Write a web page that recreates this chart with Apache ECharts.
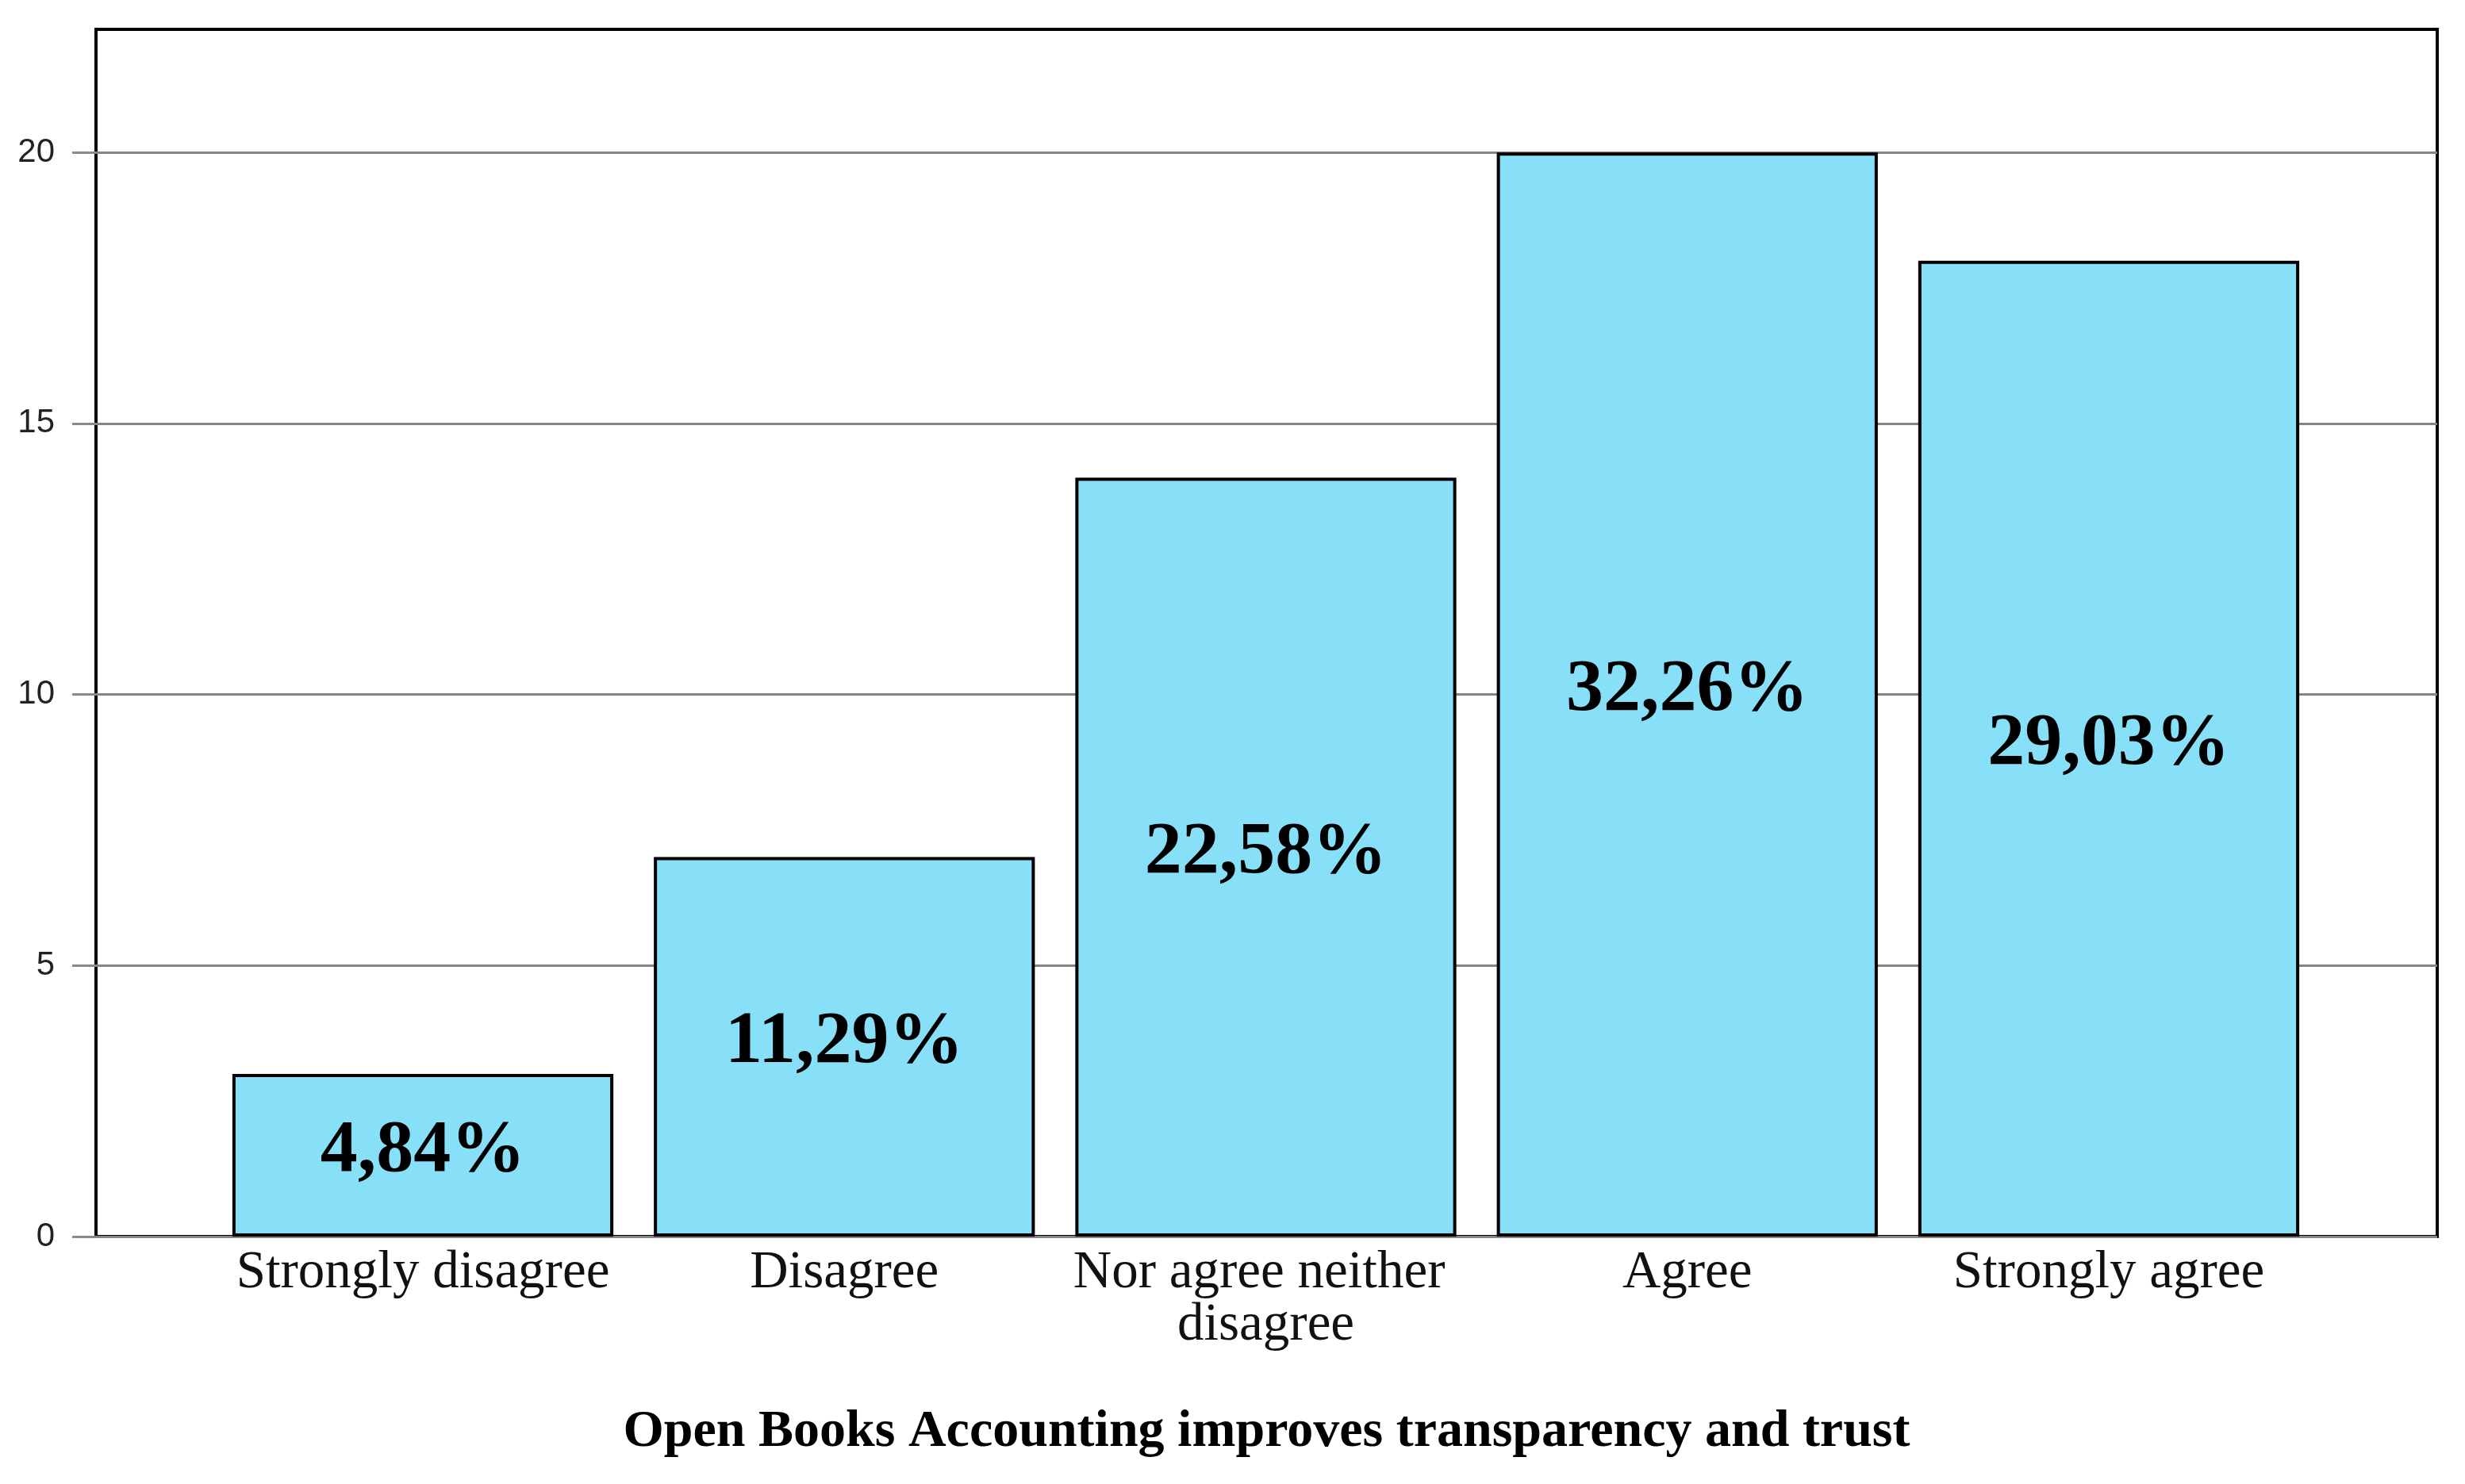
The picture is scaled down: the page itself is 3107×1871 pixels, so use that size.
<!DOCTYPE html>
<html>
<head>
<meta charset="utf-8">
<script src="https://cdn.jsdelivr.net/npm/echarts@6/dist/echarts.min.js"></script>
<style>
html,body{margin:0;padding:0;background:#fff;}
#chart{width:3107px;height:1871px;}
</style>
</head>
<body>
<div id="chart"></div>
<script>
const categories = ['Strongly disagree', 'Disagree', 'Nor agree neither disagree', 'Agree', 'Strongly agree'];
const counts = [3, 7, 14, 20, 18];
const percentLabels = ['4,84%', '11,29%', '22,58%', '32,26%', '29,03%'];
const yTicks = [0, 5, 10, 15, 20];
const yMax = 22.27;
const axisTitle = 'Open Books Accounting improves transparency and trust';

const chart = echarts.init(document.getElementById('chart'), null, {renderer: 'canvas'});

const option = {
  backgroundColor: '#ffffff',
  animation: false,
  grid: [
    {left: 121, right: 35, top: 37, bottom: 312, show: true, borderColor: '#000', borderWidth: 4, backgroundColor: 'transparent'},
    {left: 267.4, right: 183.4, top: 37, bottom: 312}
  ],
  xAxis: [
    {
      gridIndex: 0, type: 'value', min: 0, max: 1,
      axisLine: {show: false}, axisTick: {show: false}, axisLabel: {show: false}, splitLine: {show: false},
      name: axisTitle, nameLocation: 'middle', nameGap: 214,
      nameTextStyle: {fontFamily: 'Liberation Serif', fontWeight: 'bold', fontSize: 66, color: '#000'}
    },
    {
      gridIndex: 1, type: 'category', data: categories,
      axisLine: {show: false}, axisTick: {show: false},
      axisLabel: {
        interval: 0, margin: 13, fontFamily: 'Liberation Serif', fontSize: 67, lineHeight: 66,
        color: '#111', width: 520, overflow: 'break', align: 'center'
      }
    }
  ],
  yAxis: [
    {
      gridIndex: 0, type: 'value', min: 0, max: yMax,
      axisLine: {show: false},
      axisTick: {show: true, length: 30, customValues: yTicks, lineStyle: {color: '#8a8a8a', width: 3}},
      axisLabel: {customValues: yTicks, margin: 52, fontFamily: 'Liberation Sans', fontSize: 42, color: '#222'},
      splitLine: {show: true, lineStyle: {color: '#858585', width: 3}}
    },
    {
      gridIndex: 1, type: 'value', min: 0, max: yMax, show: false,
      splitLine: {show: false}
    }
  ],
  series: [{
    type: 'bar',
    xAxisIndex: 1, yAxisIndex: 1,
    data: counts,
    barCategoryGap: '9.6%',
    itemStyle: {color: '#88E0F8', borderColor: '#000', borderWidth: 4},
    label: {
      show: true, position: 'inside', offset: [0, -5],
      formatter: (p) => percentLabels[p.dataIndex],
      fontFamily: 'Liberation Serif', fontWeight: 'bold', fontSize: 94, color: '#000'
    },
    z: 3
  }]
};
chart.setOption(option);
</script>
</body>
</html>
